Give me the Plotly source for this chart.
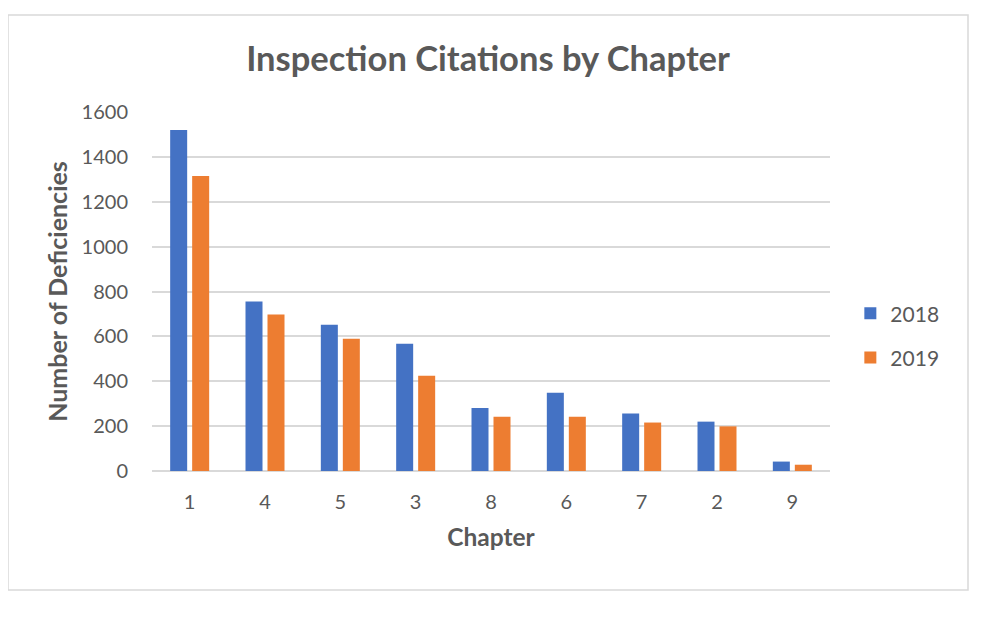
import plotly.graph_objects as go

chapters = ["1", "4", "5", "3", "8", "6", "7", "2", "9"]
values_2018 = [1520, 755, 652, 567, 281, 349, 256, 220, 42]
values_2019 = [1315, 697, 589, 424, 242, 242, 216, 199, 28]
series_names = ["2018", "2019"]
colors = ["#4472C4", "#ED7D31"]

FONT = "Lato"
GRAY = "#595959"

fig = go.Figure()
for name, vals, col, grp in zip(series_names, [values_2018, values_2019], colors, ["a", "b"]):
    fig.add_trace(go.Bar(x=chapters, y=vals, name=name, marker_color=col,
                         marker_line_width=0, legendgroup=grp))

fig.update_layout(
    width=993, height=622,
    margin=dict(l=144, r=171, t=104, b=159),
    paper_bgcolor="white", plot_bgcolor="white",
    bargap=0.416, bargroupgap=0.227,
    font=dict(family=FONT, color=GRAY, size=20),
    title=dict(text="<b>Inspection Citations by Chapter</b>", x=(480 - 144) / 678, xref="paper",
               xanchor="center", y=1 - 51 / 622, yanchor="middle",
               font=dict(family=FONT, size=34.5, color=GRAY)),
    xaxis=dict(type="category", showgrid=False, showline=False, ticks="",
               tickfont=dict(size=20, color=GRAY), ticklabelstandoff=17,
               title=dict(text="<b>Chapter</b>", font=dict(size=24.5, color=GRAY), standoff=16)),
    yaxis=dict(range=[0, 1600], dtick=200, showgrid=True, gridcolor="#D9D9D9", gridwidth=1.5,
               zeroline=True, zerolinecolor="#D9D9D9", zerolinewidth=1.5, showline=False,
               tickfont=dict(size=20, color=GRAY), ticks="", ticklabelstandoff=23,
               title=dict(text="<b>Number of Deficiencies</b>", font=dict(size=25, color=GRAY), standoff=6)),
    legend=dict(x=1.03, y=0.377, xanchor="left", yanchor="middle",
                font=dict(size=21, color=GRAY), tracegroupgap=14, bgcolor="rgba(0,0,0,0)"),
    shapes=[dict(type="rect", xref="paper", yref="paper",
                 x0=(8 - 152) / 678, x1=(968 - 152) / 678,
                 y0=(471 - 590) / 359, y1=(471 - 15) / 359,
                 line=dict(color="#D9D9D9", width=1.5), fillcolor="rgba(0,0,0,0)", layer="below")],
)

fig.write_html("out.html")
